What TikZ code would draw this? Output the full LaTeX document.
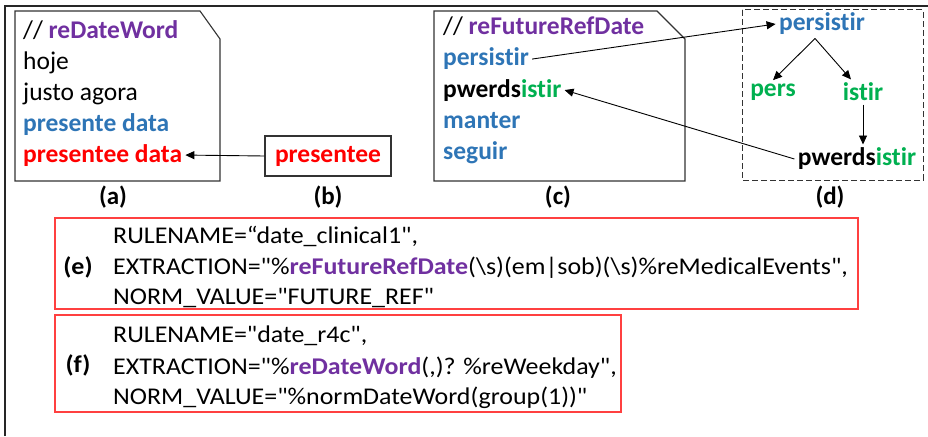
\documentclass[tikz,border=0pt]{standalone}
\usepackage{fontspec}
\setmainfont{Carlito}[Ligatures=NoCommon]
\newfontfamily\rulefont{Carlito}[Ligatures=NoCommon, FakeStretch=1.08]
\usetikzlibrary{arrows.meta}

\definecolor{rePurple}{HTML}{7030A0}
\definecolor{wordBlue}{HTML}{2E75B6}
\definecolor{stemGreen}{HTML}{00B050}
\definecolor{markRed}{HTML}{FF0000}

\tikzset{
  word/.style={anchor=base west, inner sep=3pt},
  panel/.style={draw=black!80, line width=1.1pt},
  tag/.style={font=\fontsize{25}{30}\selectfont\bfseries},
  arr/.style={-{Triangle[length=9pt,width=8pt]}, line width=0.9pt},
  ruleline/.style={anchor=base west, inner sep=0pt, font=\rulefont\fontsize{24}{28}\selectfont},
  ruletag/.style={font=\rulefont\fontsize{24}{28}\selectfont\bfseries},
  rulebox/.style={draw=markRed!75!white, line width=1.1pt},
}

\begin{document}
\begin{tikzpicture}[x=1pt,y=-1pt,font=\fontsize{25.5}{30}\selectfont]
  \useasboundingbox (0,0) rectangle (928,436);
  % frame
  \draw[black!85, line width=1.5pt] (5,436) -- (5,6) -- (928,6);

  % (a) list of date words
  \draw[panel] (15,11) -- (200,11) -- (220,39) -- (220,181) -- (15,181) -- cycle;
  \node[word] (aHead) at (20,38) {// \textcolor{rePurple}{\bfseries reDateWord}};
  \node[word] (aHoje) at (20,69) {hoje};
  \node[word] (aJusto) at (20,100) {justo agora};
  \node[word] (aPres) at (20,131) {\textcolor{wordBlue}{\bfseries presente data}};
  \node[word] (aPresee) at (20,162) {\textcolor{markRed}{\bfseries presentee data}};

  % (b) misspelled word
  \node[draw=black!80, line width=1.1pt, minimum width=126pt, minimum height=40pt]
    (bWord) at (328,156) {\textcolor{markRed}{\bfseries presentee}};
  \draw[arr] (bWord.west) -- (aPresee.east);

  % (c) list of future reference words
  \draw[panel] (434,11) -- (657,11) -- (685,39) -- (685,181) -- (434,181) -- cycle;
  \node[word] (cHead) at (440,35) {// \textcolor{rePurple}{\bfseries reFutureRefDate}};
  \node[word] (cPers) at (440,66) {\textcolor{wordBlue}{\bfseries persistir}};
  \node[word] (cPwerd) at (440,97) {\bfseries pwerds\textcolor{stemGreen}{istir}};
  \node[word] (cManter) at (440,128) {\textcolor{wordBlue}{\bfseries manter}};
  \node[word] (cSeguir) at (440,159) {\textcolor{wordBlue}{\bfseries seguir}};

  % (d) split of the word
  \draw[panel, dash pattern=on 6pt off 3pt, line width=1pt] (742,10) rectangle (923,180);
  \node (dPers) at (822,24) {\textcolor{wordBlue}{\bfseries persistir}};
  \node (dLeft) at (773,92) {\textcolor{stemGreen}{\bfseries pers}};
  \node (dRight) at (863,92) {\textcolor{stemGreen}{\bfseries istir}};
  \node (dPwerd) at (857,159) {\bfseries pwerds\textcolor{stemGreen}{istir}};
  \draw[arr] ([xshift=-7pt]dPers.south) -- (dLeft.north);
  \draw[arr] ([xshift=-7pt]dPers.south) -- ([xshift=-12pt]dRight.north);
  \draw[arr] (dRight.south) -- (dRight.south |- dPwerd.north);
  \draw[arr] (cPers.east) -- (dPers.west);
  \draw[arr] (dPwerd.west) -- (cPwerd.east);

  \node[tag] (tagA) at (113,197) {(a)};
  \node[tag] (tagB) at (328,197) {(b)};
  \node[tag] (tagC) at (558,197) {(c)};
  \node[tag] (tagD) at (830,197) {(d)};

  % (e) rule
  \draw[rulebox] (55,218) rectangle (858,309);
  \node[ruletag] (tagE) at (78,267) {(e)};
  \node[ruleline] (eName) at (113,243) {RULENAME=“date\_clinical1",};
  \node[ruleline] (eExtr) at (113,274) {EXTRACTION="\%\textcolor{rePurple}{\bfseries reFutureRefDate}(\textbackslash s)(em|sob)(\textbackslash s)\%reMedicalEvents",};
  \node[ruleline] (eNorm) at (113,304) {NORM\_VALUE="FUTURE\_REF"};

  % (f) rule
  \draw[rulebox] (55,315) rectangle (621,412);
  \node[ruletag] (tagF) at (78,365) {(f)};
  \node[ruleline] (fName) at (113,342) {RULENAME="date\_r4c",};
  \node[ruleline] (fExtr) at (113,374) {EXTRACTION="\%\textcolor{rePurple}{\bfseries reDateWord}(,)? \%reWeekday",};
  \node[ruleline] (fNorm) at (113,404) {NORM\_VALUE="\%normDateWord(group(1))"};
\end{tikzpicture}
\end{document}
